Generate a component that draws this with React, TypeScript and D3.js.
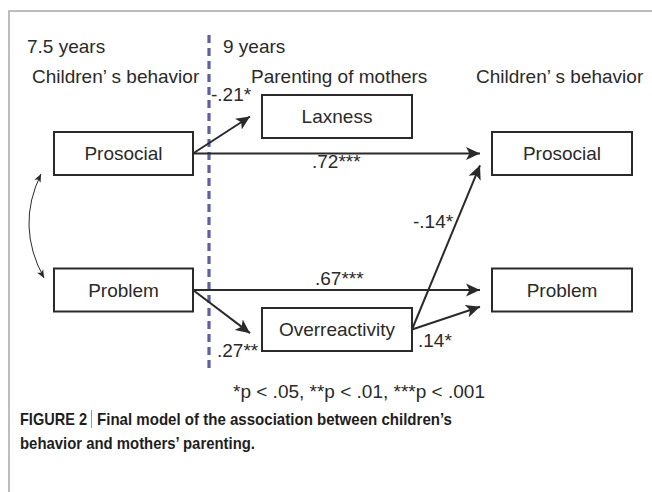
import React from 'react';
import * as d3 from 'd3';

// model content
const waveLabels = ['7.5 years', '9 years'];
const columnHeads = ['Children’ s behavior', 'Parenting of mothers', 'Children’ s behavior'];

const nodes = [
    { id: 'proT1', label: 'Prosocial', wave: 't1', row: 'prosocial' },
    { id: 'probT1', label: 'Problem', wave: 't1', row: 'problem' },
    { id: 'lax', label: 'Laxness', wave: 'parent', row: 'laxness' },
    { id: 'over', label: 'Overreactivity', wave: 'parent', row: 'overreactivity' },
    { id: 'proT2', label: 'Prosocial', wave: 't2', row: 'prosocial' },
    { id: 'probT2', label: 'Problem', wave: 't2', row: 'problem' },
];

const paths = [
    { from: 'proT1', to: 'lax', coef: '-.21*' },
    { from: 'proT1', to: 'proT2', coef: '.72***' },
    { from: 'probT1', to: 'probT2', coef: '.67***' },
    { from: 'probT1', to: 'over', coef: '.27**' },
    { from: 'over', to: 'proT2', coef: '-.14*' },
    { from: 'over', to: 'probT2', coef: '.14*' },
];

const footnote = '*p < .05, **p < .01, ***p < .001';
const captionLabel = 'FIGURE 2';
const captionLines = ['Final model of the association between children’s', 'behavior and mothers’ parenting.'];

const W = 652;
const H = 492;
const font = '"Liberation Sans", Arial, sans-serif';
const capFont = '"Liberation Sans Narrow", "Arial Narrow", "Liberation Sans", sans-serif';
const ink = '#2a2a2a';

// layout
const colX = d3.scaleOrdinal<string, number>().domain(['t1', 'parent', 't2']).range([123.5, 337, 562]);
const colW = d3.scaleOrdinal<string, number>().domain(['t1', 'parent', 't2']).range([139, 150, 140]);
const rowY = d3.scaleOrdinal<string, number>()
    .domain(['laxness', 'prosocial', 'problem', 'overreactivity'])
    .range([116.5, 153.5, 290, 329.5]);
const boxH = 43;
const gap = 12;

// where each arrow hits its target (fraction of half-height) and label placement
const targetDy: Record<string, number> = {
    'proT1-lax': 0, 'proT1-proT2': 0, 'probT1-probT2': 0,
    'probT1-over': 0.17, 'over-proT2': 0.55, 'over-probT2': 0.78,
};
const labelPos: Record<string, [number, number]> = {
    'proT1-lax': [211, 101], 'proT1-proT2': [312, 168], 'probT1-probT2': [315, 285],
    'probT1-over': [217, 357], 'over-proT2': [413, 228], 'over-probT2': [418, 347],
};

const App: React.FC = () => {
    const byId = new Map(nodes.map(n => [n.id, n]));
    const box = (id: string) => {
        const n = byId.get(id)!;
        const cx = colX(n.wave), cy = rowY(n.row), w = colW(n.wave);
        return { x0: cx - w / 2, x1: cx + w / 2, cx, cy, y0: cy - boxH / 2, y1: cy + boxH / 2 };
    };
    const line = d3.line();

    const curve = d3.path();
    curve.moveTo(41, 174);
    curve.quadraticCurveTo(15.5, 226, 44, 278);

    return (
        <svg width={W} height={H} style={{ position: 'absolute', left: 0, top: 0 }}>
            <defs>
                <marker id="head" markerUnits="userSpaceOnUse" markerWidth={16} markerHeight={14}
                    refX={14} refY={7} orient="auto" viewBox="0 0 16 14">
                    <path d="M0,0.5 L14,7 L0,13.5 L3.5,7 Z" fill={ink} />
                </marker>
                <marker id="thin" markerUnits="userSpaceOnUse" markerWidth={10} markerHeight={8}
                    refX={8} refY={4} orient="auto-start-reverse" viewBox="0 0 10 8">
                    <path d="M0,0.5 L8,4 L0,7.5 L2,4 Z" fill={ink} />
                </marker>
            </defs>
            <rect width={W} height={H} fill="#fff" />
            <path d="M9,492 V11 H652" fill="none" stroke="#a8a8a8" strokeWidth={1.5} />

            <line x1={209} x2={209} y1={35} y2={368} stroke="#5f5ea3" strokeWidth={3.2} strokeDasharray="8 5" />

            <g fontFamily={font} fontSize={19} fill={ink}>
                <text x={27} y={53}>{waveLabels[0]}</text>
                <text x={223} y={53}>{waveLabels[1]}</text>
                <text x={32} y={83}>{columnHeads[0]}</text>
                <text x={251} y={83}>{columnHeads[1]}</text>
                <text x={476} y={83}>{columnHeads[2]}</text>
            </g>

            {paths.map(p => {
                const a = box(p.from), b = box(p.to);
                const key = `${p.from}-${p.to}`;
                const src: [number, number] = [a.x1, a.cy];
                const dst: [number, number] = [b.x0 - gap, b.cy + targetDy[key] * boxH / 2];
                return (
                    <path key={key} d={line([src, dst]) ?? ''} stroke={ink} strokeWidth={2} fill="none"
                        markerEnd="url(#head)" />
                );
            })}

            <path d={curve.toString()} fill="none" stroke={ink} strokeWidth={1}
                markerStart="url(#thin)" markerEnd="url(#thin)" />

            {nodes.map(n => {
                const b = box(n.id);
                return (
                    <g key={n.id}>
                        <rect x={b.x0} y={b.y0} width={b.x1 - b.x0} height={boxH} fill="#fff" stroke={ink} strokeWidth={2} />
                        <text x={b.cx} y={b.cy + 6.5} textAnchor="middle" fontFamily={font} fontSize={19} fill={ink}>{n.label}</text>
                    </g>
                );
            })}

            <g fontFamily={font} fontSize={19} fill={ink}>
                {paths.map(p => {
                    const key = `${p.from}-${p.to}`;
                    const [x, y] = labelPos[key];
                    return <text key={key} x={x} y={y}>{p.coef}</text>;
                })}
                <text x={233} y={398}>{footnote}</text>
            </g>

            <g fontFamily={capFont} fontSize={17} fill="#1e1e1e" fontWeight="bold">
                <text x={20} y={425} textLength={67} lengthAdjust="spacingAndGlyphs">{captionLabel}</text>
                <line x1={91.5} x2={91.5} y1={410} y2={428} stroke="#999" strokeWidth={1} />
                <text x={97} y={425} textLength={355} lengthAdjust="spacingAndGlyphs">{captionLines[0]}</text>
                <text x={20} y={449} textLength={235} lengthAdjust="spacingAndGlyphs">{captionLines[1]}</text>
            </g>
        </svg>
    );
};

export default App;
